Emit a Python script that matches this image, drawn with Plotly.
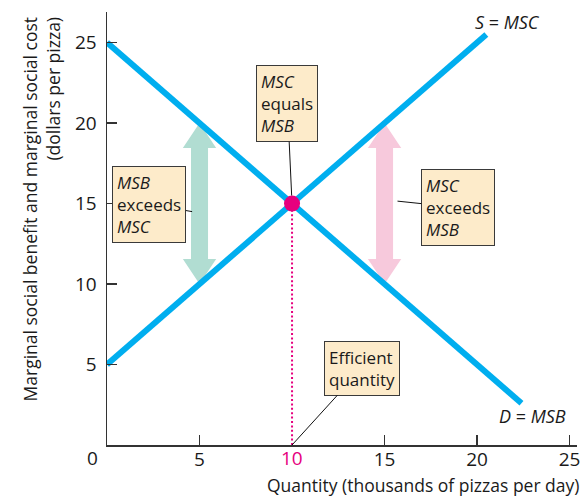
import numpy as np
import plotly.graph_objects as go

# ---------------- data ----------------
msb_q = [0, 22.4]          # D = MSB line (quantity, thousands of pizzas/day)
msb_p = [25, 2.6]          # dollars per pizza
msc_q = [0, 20.5]          # S = MSC line
msc_p = [5, 25.5]
efficient_q = 10
efficient_p = 15
arrow_q = [5, 15]          # where the gap arrows sit
x_tick_vals = [5, 15, 20, 25]
y_tick_vals = [5, 10, 15, 20, 25]

BLUE = "#00aeef"
MAGENTA = "#e6007e"
GREEN = "#b1ddd2"
PINK = "#f7c9dc"
BOX = "#fdebca"
FONT = "Open Sans"
TXT = "#1a1a1a"


def msb(q):
    return float(np.interp(q, msb_q, msb_p))


def msc(q):
    return float(np.interp(q, msc_q, msc_p))


def dbl_arrow(xc, y0, y1, shaft=0.46, head=0.9, hl=1.55):
    xs = [xc, xc + head, xc + shaft, xc + shaft, xc + head, xc,
          xc - head, xc - shaft, xc - shaft, xc - head, xc]
    ys = [y1, y1 - hl, y1 - hl, y0 + hl, y0 + hl, y0,
          y0 + hl, y0 + hl, y1 - hl, y1 - hl, y1]
    return xs, ys


fig = go.Figure()

# gap arrows
for q, col in zip(arrow_q, [GREEN, PINK]):
    lo, hi = sorted([msb(q), msc(q)])
    xs, ys = dbl_arrow(q, lo, hi)
    fig.add_trace(go.Scatter(x=xs, y=ys, mode="lines", fill="toself",
                             fillcolor=col, line=dict(width=0, color=col),
                             hoverinfo="skip", showlegend=False))

# demand / supply lines
fig.add_trace(go.Scatter(x=msb_q, y=msb_p, mode="lines",
                         line=dict(color=BLUE, width=6), showlegend=False))
fig.add_trace(go.Scatter(x=msc_q, y=msc_p, mode="lines",
                         line=dict(color=BLUE, width=6), showlegend=False))

# dotted line to efficient quantity
fig.add_trace(go.Scatter(x=[efficient_q, efficient_q], y=[0, efficient_p], mode="lines",
                         line=dict(color=MAGENTA, width=2, dash="2px,2.4px"),
                         showlegend=False))
# equilibrium point
fig.add_trace(go.Scatter(x=[efficient_q], y=[efficient_p], mode="markers",
                         marker=dict(color=MAGENTA, size=16, line=dict(width=0)),
                         showlegend=False))

annotations = []
box_font = dict(family=FONT, size=17, color=TXT)


def box(text, x, y, ax, ay, standoff=0):
    annotations.append(dict(
        x=x, y=y, ax=ax, ay=ay, xref="x", yref="y", axref="x", ayref="y",
        text=text, showarrow=True, arrowhead=0, arrowwidth=1, arrowcolor="#111",
        standoff=standoff, bgcolor=BOX, bordercolor="#3a3a3a", borderwidth=1,
        borderpad=4, align="left", font=box_font))


box("<i>MSB</i><br>exceeds<br><i>MSC</i>", 4.6, 14.5, 2.29, 14.95)
box("<i>MSC</i><br>equals<br><i>MSB</i>", efficient_q, efficient_p, 9.75, 21.2, standoff=8)
box("<i>MSC</i><br>exceeds<br><i>MSB</i>", 15.7, 15.15, 18.96, 14.76)
box("Efficient<br>quantity", efficient_q, 0, 13.78, 4.77)

# line labels
label_font = dict(family=FONT, size=18, color=TXT)
annotations.append(dict(x=21.62, y=26.25, xref="x", yref="y", showarrow=False,
                        text="<i>S</i>\u00a0=\u00a0<i>MSC</i>", font=label_font))
annotations.append(dict(x=23.02, y=1.78, xref="x", yref="y", showarrow=False,
                        text="<i>D</i>\u00a0=\u00a0<i>MSB</i>", font=label_font))

# origin and efficient-quantity tick labels
annotations.append(dict(x=0, y=0, xref="x", yref="y", showarrow=False, text="0",
                        xshift=-15, yshift=-13, font=dict(family=FONT, size=19, color=TXT)))
annotations.append(dict(x=efficient_q, y=0, xref="x", yref="y", showarrow=False, text="10",
                        yshift=-13, font=dict(family=FONT, size=19, color=MAGENTA)))

# axis titles
annotations.append(dict(x=1.008, y=-0.092, xref="paper", yref="paper", showarrow=False,
                        xanchor="right", yanchor="middle",
                        text="Quantity (thousands of pizzas per day)",
                        font=dict(family=FONT, size=17.5, color=TXT)))
annotations.append(dict(x=-0.1395, y=0.545, xref="paper", yref="paper", showarrow=False,
                        xanchor="center", yanchor="middle",
                        textangle=-90, align="right",
                        text="Marginal social benefit and marginal social cost<br>(dollars per pizza)",
                        font=dict(family=FONT, size=17.5, color=TXT)))

axis_common = dict(showline=True, linecolor="#333", linewidth=1.5, ticks="inside",
                   ticklen=10, tickwidth=1.5, tickcolor="#333", showgrid=False,
                   zeroline=False, fixedrange=True,
                   tickfont=dict(family=FONT, size=19, color=TXT))

fig.update_layout(
    width=587, height=497,
    margin=dict(l=107, r=7, t=12, b=52),
    plot_bgcolor="white", paper_bgcolor="white",
    xaxis=dict(range=[0, 25.4], tickvals=x_tick_vals, ticklabelstandoff=-3, **axis_common),
    yaxis=dict(range=[0, 26.9], tickvals=y_tick_vals, ticklabelstandoff=5, **axis_common),
    annotations=annotations,
    showlegend=False,
)

# remove the browser's default 8px body margin so the figure fills the window
fig.write_html("out.html",
               config={"displayModeBar": False, "staticPlot": True},
               post_script="document.body.style.margin='0px';"
                           "document.body.style.overflow='hidden';")
